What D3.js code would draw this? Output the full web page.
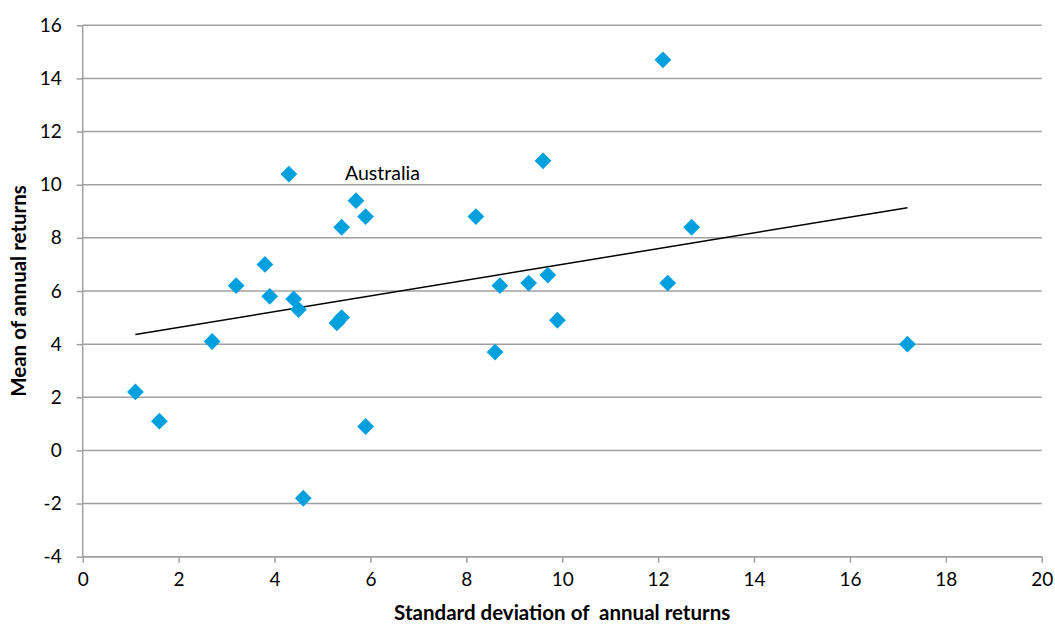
<!DOCTYPE html>
<html><head><meta charset="utf-8">
<script src="https://cdn.jsdelivr.net/npm/d3@7"></script>
<style>body{margin:0;background:#fff;} svg{display:block;font-family:Lato,"Open Sans",sans-serif;}</style>
</head><body>
<svg id="c" width="1055" height="627"></svg>
<script>
const sdValues = [1.1,1.6,2.7,3.2,3.8,3.9,4.3,4.4,4.5,4.6,5.3,5.4,5.4,5.7,5.9,5.9,8.2,8.6,8.7,9.3,9.6,9.7,9.9,12.1,12.2,12.7,17.2];
const meanValues = [2.2,1.1,4.1,6.2,7.0,5.8,10.4,5.7,5.3,-1.8,4.8,5.0,8.4,9.4,8.8,0.9,8.8,3.7,6.2,6.3,10.9,6.6,4.9,14.7,6.3,8.4,4.0];
const labelText = "Australia";
const labelIndex = 13;
const xTicks = [0,2,4,6,8,10,12,14,16,18,20];
const yTicks = [-4,-2,0,2,4,6,8,10,12,14,16];
const xTitle = "Standard deviation of  annual returns";
const yTitle = "Mean of annual returns";

const svg = d3.select("#c");
const m = {l:82.7, r:1041.7, t:25.3, b:556.7};
const x = d3.scaleLinear().domain([0,20]).range([m.l, m.r]);
const y = d3.scaleLinear().domain([-4,16]).range([m.b, m.t]);
const grid = "#a0a0a0";
const fmt = d => String(d);

// gridlines
svg.append("g").selectAll("line").data(yTicks).join("line")
  .attr("x1", m.l).attr("x2", m.r).attr("y1", d=>y(d)).attr("y2", d=>y(d))
  .attr("stroke", grid).attr("stroke-width", 1.5);

// y axis
const ya = svg.append("g").attr("transform", `translate(${m.l},0)`)
  .call(d3.axisLeft(y).tickValues(yTicks).tickSize(6).tickPadding(15).tickFormat(fmt));
ya.select(".domain").attr("stroke", grid).attr("stroke-width", 1.5).attr("d", `M-0,${m.t}V${m.b}`);
ya.selectAll(".tick line").attr("stroke", grid).attr("stroke-width", 1.5);
ya.selectAll("text").attr("font-size", 19).attr("fill", "#000").attr("font-family", "Lato");

// x axis
const xa = svg.append("g").attr("transform", `translate(0,${m.b})`)
  .call(d3.axisBottom(x).tickValues(xTicks).tickSize(6).tickPadding(10).tickFormat(fmt));
xa.select(".domain").attr("stroke", grid).attr("stroke-width", 1.5).attr("d", `M${m.l},0H${m.r}`);
xa.selectAll(".tick line").attr("stroke", grid).attr("stroke-width", 1.5);
xa.selectAll("text").attr("font-size", 19).attr("fill", "#000").attr("font-family", "Lato");

// trendline (least squares)
const n = sdValues.length;
const mx = d3.mean(sdValues), my = d3.mean(meanValues);
let sxy=0, sxx=0;
for (let i=0;i<n;i++){ sxy += (sdValues[i]-mx)*(meanValues[i]-my); sxx += (sdValues[i]-mx)**2; }
const slope = sxy/sxx, icpt = my - slope*mx;
const [x0,x1] = d3.extent(sdValues);
svg.append("line").attr("x1", x(x0)).attr("y1", y(icpt+slope*x0))
  .attr("x2", x(x1)).attr("y2", y(icpt+slope*x1)).attr("stroke","#000").attr("stroke-width",1.5);

// points
const pts = sdValues.map((v,i)=>({x:v,y:meanValues[i]}));
svg.append("g").selectAll("path").data(pts).join("path")
  .attr("d", d3.symbol(d3.symbolDiamond2 || d3.symbolDiamond, 180)())
  .attr("transform", d=>`translate(${x(d.x)},${y(d.y)})`)
  .attr("fill", "#00a0de");

// label
svg.append("text").attr("x", x(sdValues[labelIndex]) - 11).attr("y", y(meanValues[labelIndex]) - 21)
  .attr("font-size", 19.5).attr("font-family","Lato").attr("fill","#000").text(labelText);

// titles
svg.append("text").attr("x", (m.l+m.r)/2).attr("y", 620).attr("text-anchor","middle")
  .style("white-space","pre").attr("xml:space","preserve")
  .attr("font-size", 20.5).attr("font-weight","bold").attr("font-family","Lato").text(xTitle);
svg.append("text").attr("transform", `translate(26,${(m.t+m.b)/2}) rotate(-90)`).attr("text-anchor","middle")
  .attr("font-size", 20.5).attr("font-weight","bold").attr("font-family","Lato").text(yTitle);
</script>
</body></html>
